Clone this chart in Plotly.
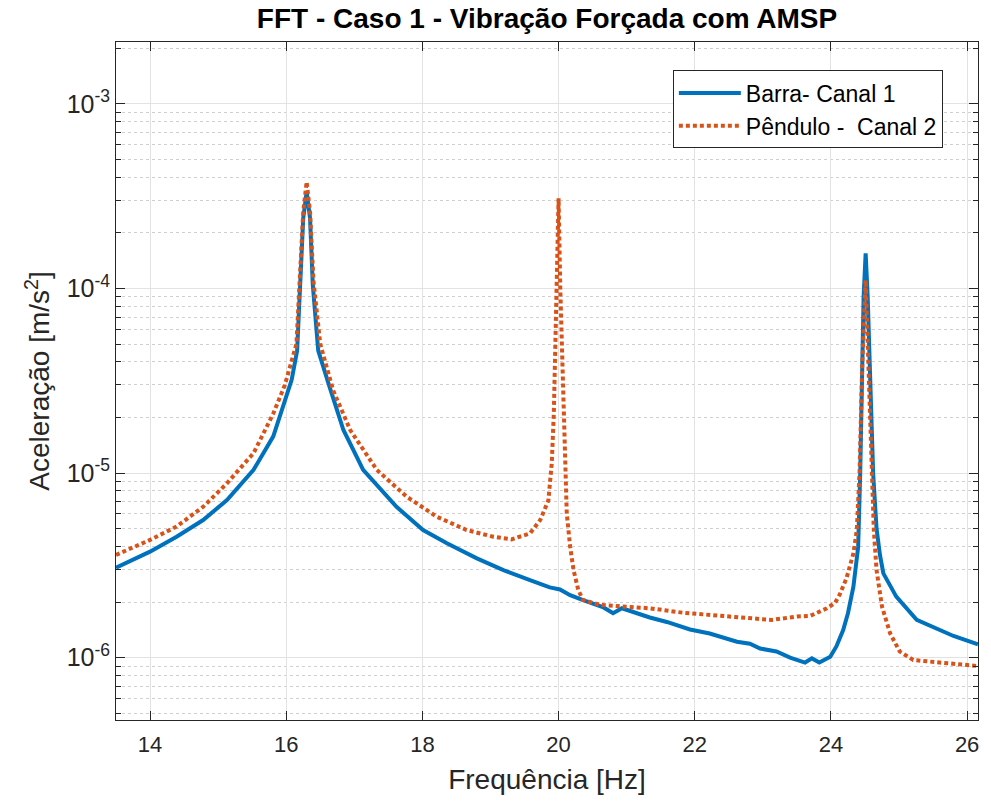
import plotly.graph_objects as go

# ---- data ----
freq_barra = [13.50, 14.00, 14.39, 14.78, 15.13, 15.52, 15.81, 16.01, 16.08, 16.16, 16.20, 16.25,
              16.30, 16.35, 16.39, 16.47, 16.64, 16.84, 17.13, 17.62, 18.01, 18.36, 18.80, 19.19,
              19.58, 19.87, 20.02, 20.17, 20.36, 20.66, 20.80, 20.93, 21.34, 21.59, 21.93, 22.22,
              22.62, 22.81, 22.96, 23.20, 23.40, 23.62, 23.72, 23.83, 23.99, 24.08, 24.18, 24.25,
              24.33, 24.40, 24.43, 24.46, 24.48, 24.51, 24.54, 24.57, 24.62, 24.67, 24.72, 24.77,
              24.96, 25.26, 25.60, 25.80, 26.16]
acc_barra = [3.07e-6, 3.75e-6, 4.52e-6, 5.56e-6, 7.14e-6, 1.04e-5, 1.58e-5, 2.7e-5, 3.2e-5, 4.6e-5,
             1.07e-4, 2.4e-4, 3.34e-4, 2.4e-4, 1.05e-4, 4.6e-5, 2.9e-5, 1.71e-5, 1.04e-5, 6.56e-6,
             4.91e-6, 4.16e-6, 3.45e-6, 2.98e-6, 2.63e-6, 2.4e-6, 2.34e-6, 2.18e-6, 2.05e-6,
             1.87e-6, 1.74e-6, 1.85e-6, 1.65e-6, 1.56e-6, 1.42e-6, 1.35e-6, 1.22e-6, 1.19e-6,
             1.12e-6, 1.08e-6, 1.0e-6, 9.4e-7, 9.9e-7, 9.4e-7, 1.01e-6, 1.15e-6, 1.41e-6, 1.74e-6,
             2.42e-6, 3.98e-6, 1.0e-5, 3.9e-5, 9.0e-5, 1.55e-4, 9.0e-5, 3.9e-5, 1.0e-5, 5.0e-6,
             3.6e-6, 2.86e-6, 2.14e-6, 1.6e-6, 1.41e-6, 1.31e-6, 1.18e-6]

freq_pendulo = [13.50, 14.00, 14.39, 14.78, 15.13, 15.52, 15.81, 15.98, 16.15, 16.20, 16.25, 16.30,
                16.35, 16.40, 16.50, 16.69, 16.94, 17.33, 17.77, 18.21, 18.65, 19.04, 19.31, 19.58,
                19.73, 19.85, 19.90, 19.93, 19.95, 19.975, 20.00, 20.025, 20.05, 20.09, 20.12, 20.17,
                20.22, 20.29, 20.36, 20.61, 20.93, 21.34, 21.83, 22.32, 22.71, 23.13, 23.50, 23.69,
                23.94, 24.06, 24.13, 24.23, 24.33, 24.38, 24.42, 24.46, 24.51, 24.55, 24.60, 24.63,
                24.67, 24.75, 24.87, 25.01, 25.21, 25.50, 25.80, 26.07, 26.16]
acc_pendulo = [3.6e-6, 4.34e-6, 5.13e-6, 6.56e-6, 8.8e-6, 1.28e-5, 2.1e-5, 3.0e-5, 5.0e-5, 1.15e-4,
               2.6e-4, 3.78e-4, 2.6e-4, 1.1e-4, 5.0e-5, 2.8e-5, 1.71e-5, 1.04e-5, 7.44e-6, 5.8e-6,
               4.91e-6, 4.52e-6, 4.37e-6, 4.71e-6, 5.56e-6, 7.1e-6, 1.13e-5, 2.1e-5, 4.6e-5, 1.0e-4,
               3.08e-4, 1.0e-4, 4.6e-5, 1.0e-5, 6.05e-6, 3.99e-6, 2.98e-6, 2.32e-6, 2.05e-6, 1.93e-6,
               1.90e-6, 1.85e-6, 1.75e-6, 1.69e-6, 1.65e-6, 1.60e-6, 1.67e-6, 1.68e-6, 1.85e-6,
               1.98e-6, 2.2e-6, 2.7e-6, 3.67e-6, 4.9e-6, 1.0e-5, 3.9e-5, 1.11e-4, 4.0e-5, 1.0e-5,
               4.9e-6, 2.98e-6, 1.89e-6, 1.35e-6, 1.08e-6, 9.7e-7, 9.5e-7, 9.3e-7, 9.1e-7, 9.0e-7]

x_ticks = [14, 16, 18, 20, 22, 24, 26]
y_ticks = [1e-6, 1e-5, 1e-4, 1e-3]
y_ticktext = ["10<sup>-6</sup>", "10<sup>-5</sup>", "10<sup>-4</sup>", "10<sup>-3</sup>"]
y_minor = [m * 10.0 ** e for e in range(-7, -2) for m in range(2, 10)]

FONT = "Liberation Sans, Arial, sans-serif"
AX = "#262626"

fig = go.Figure()
fig.add_trace(go.Scatter(x=freq_barra, y=acc_barra, mode="lines", name="Barra- Canal 1",
                         legendgroup="a",
                         line=dict(color="#0072BD", width=4)))
fig.add_trace(go.Scatter(x=freq_pendulo, y=acc_pendulo, mode="lines",
                         name="P\u00eandulo -\u00a0 Canal 2", legendgroup="b",
                         line=dict(color="#D95319", width=4, dash="4px,3px")))

fig.update_layout(
    width=991, height=807,
    margin=dict(l=116, r=13, t=42, b=87),
    paper_bgcolor="white", plot_bgcolor="white",
    font=dict(family=FONT, color=AX),
    title=dict(text="<b>FFT - Caso 1 - Vibração Forçada com AMSP</b>",
               x=0.552, xanchor="center", xref="container",
               y=1 - 18 / 807, yanchor="middle", yref="container",
               font=dict(size=28, color="black", family=FONT)),
    legend=dict(x=0.646, y=0.958, xanchor="left", yanchor="top",
                bgcolor="white", bordercolor=AX, borderwidth=1,
                font=dict(size=23, color="black", family=FONT),
                tracegroupgap=0, itemwidth=62),
    showlegend=True,
)

fig.update_xaxes(
    range=[13.5, 26.16], tickmode="array", tickvals=x_ticks,
    ticks="inside", ticklen=9, tickwidth=1.3, tickcolor=AX,
    showline=True, linecolor=AX, linewidth=1, mirror="allticks",
    showgrid=True, gridcolor="#e2e2e2", gridwidth=1, zeroline=False,
    tickfont=dict(size=22, family=FONT, color=AX), ticklabelstandoff=5,
    title=dict(text="Frequência [Hz]", font=dict(size=28, family=FONT, color=AX), standoff=12),
)
fig.update_yaxes(
    type="log", range=[-6.338, -2.665], tickmode="array", tickvals=y_ticks, ticktext=y_ticktext,
    ticks="inside", ticklen=9, tickwidth=1.3, tickcolor=AX,
    showline=True, linecolor=AX, linewidth=1, mirror="allticks",
    showgrid=True, gridcolor="#e2e2e2", gridwidth=1, zeroline=False,
    tickfont=dict(size=25, family=FONT, color=AX),
    minor=dict(tickmode="array", tickvals=y_minor, ticks="inside", ticklen=5, tickcolor=AX,
               tickwidth=1.3, showgrid=True, gridcolor="#cfcfcf", griddash="dot", gridwidth=1),
    title=dict(text="Aceleração [m/s<sup>2</sup>]", font=dict(size=28, family=FONT, color=AX),
               standoff=8),
)

fig.write_html("out.html")
